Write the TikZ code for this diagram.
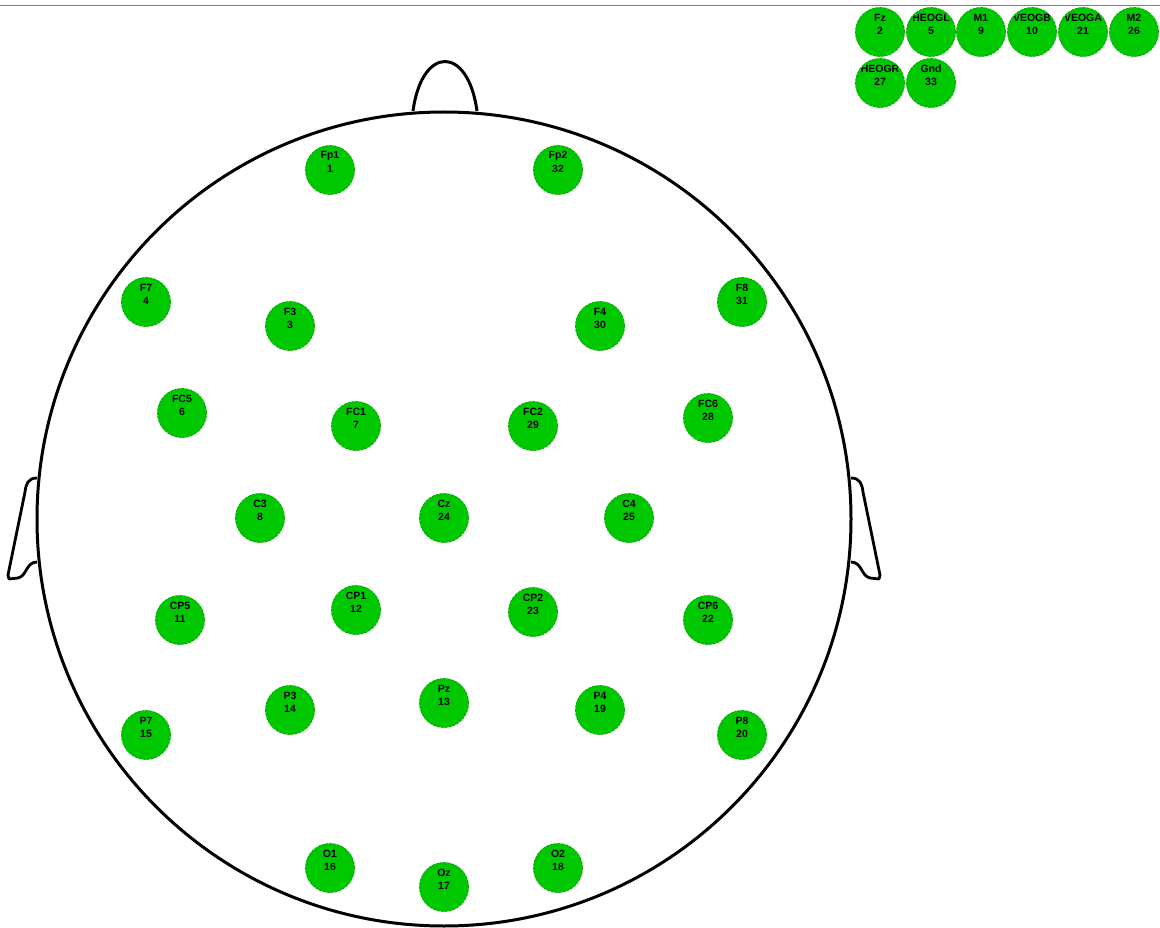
\documentclass[tikz,border=0pt]{standalone}
\usepackage{fontspec}
\setmainfont{Liberation Sans}
\definecolor{elgreen}{RGB}{0,200,0}
\definecolor{elborder}{RGB}{0,170,0}
\begin{document}
\begin{tikzpicture}[x=1pt,y=-1pt,
  headline/.style={line width=3pt,black},
  earline/.style={line width=2.8pt,black,line join=round},
  electrode/.style={circle,fill=elgreen,draw=elborder,line width=0.8pt,dash pattern=on 3pt off 1pt,minimum size=49pt,inner sep=0pt},
  eltext/.style={font=\bfseries\fontsize{10.5}{11}\selectfont,inner sep=0pt,anchor=center}]
\useasboundingbox (0,0) rectangle (1160,928);
\fill[white] (0,0) rectangle (1160,928);
\coordinate (tl) at (0,6);
\coordinate (tr) at (1160,6);
\draw[gray,line width=1pt] (tl) -- (tr);
% head
\node[circle,draw,line width=3pt,minimum size=814pt,inner sep=0pt] (head) at (444,519) {};
% nose
\draw[headline] (413,111) .. controls (422,45) and (468,45) .. (477,111);
% ears
\draw[earline] (37,478) .. controls (28,478) and (26,484) .. (25,492) -- (8,575) -- (9,579) -- (18,578) .. controls (27,576) and (26,562) .. (37,562);
\draw[earline] (851,478) .. controls (860,478) and (862,484) .. (863,492) -- (880,575) -- (879,579) -- (870,578) .. controls (861,576) and (862,562) .. (851,562);
% electrodes
\foreach \n/\lab/\num/\x/\y in {
 Fp1/Fp1/1/330/170, Fp2/Fp2/32/558/170,
 F7/F7/4/146/302, F3/F3/3/290/326, F4/F4/30/600/326, F8/F8/31/742/302,
 FC5/FC5/6/182/413, FC1/FC1/7/356/426, FC2/FC2/29/533/426, FC6/FC6/28/708/418,
 C3/C3/8/260/518, Cz/Cz/24/444/518, C4/C4/25/629/518,
 CP5/CP5/11/180/620, CP1/CP1/12/356/610, CP2/CP2/23/533/612, CP6/CP6/22/708/620,
 P7/P7/15/146/735, P3/P3/14/290/710, Pz/Pz/13/444/703, P4/P4/19/600/710, P8/P8/20/742/735,
 O1/O1/16/330/868, Oz/Oz/17/444/887, O2/O2/18/558/868,
 Fz/Fz/2/880/32, HEOGL/HEOGL/5/931/32, M1/M1/9/981/32, VEOGB/VEOGB/10/1032/32, VEOGA/VEOGA/21/1083/32, M2/M2/26/1134/32,
 HEOGR/HEOGR/27/880/83, Gnd/Gnd/33/931/83}{
  \node[electrode] (\n) at (\x,\y) {};
  \begin{scope}
    \clip (\x,\y) circle (24pt);
    \node[eltext] (\n-l) at (\x,\y-14) {\lab};
    \node[eltext] (\n-n) at (\x,\y-1) {\num};
  \end{scope}
}
\end{tikzpicture}
\end{document}
